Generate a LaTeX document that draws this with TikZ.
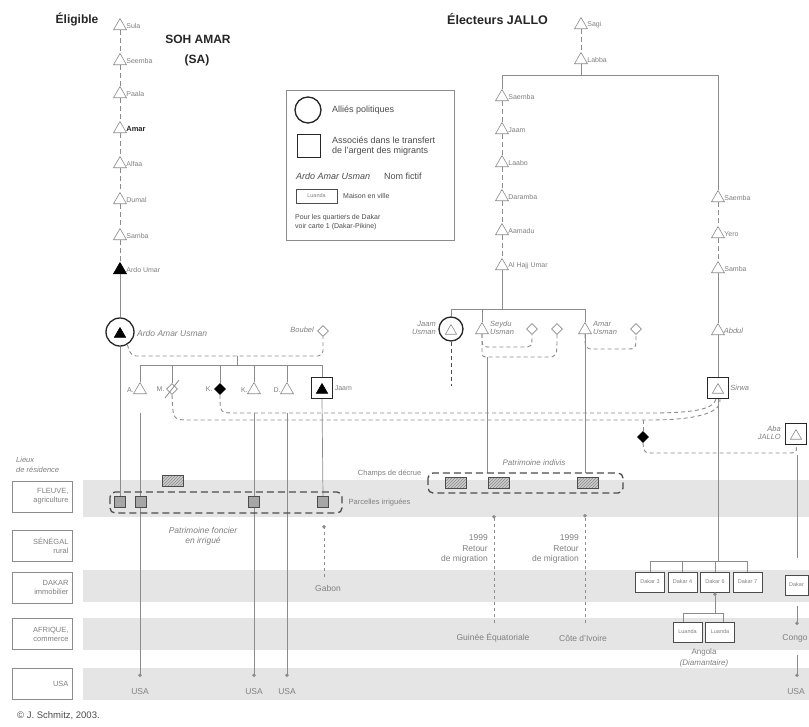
\documentclass[tikz,border=0pt]{standalone}
\usepackage{fontspec}
\setmainfont{Liberation Sans}
\usetikzlibrary{shapes.geometric,arrows.meta,patterns}
\definecolor{band}{gray}{0.9}
\definecolor{ln}{gray}{0.55}
\definecolor{tx}{gray}{0.5}
\definecolor{dk}{gray}{0.3}
\definecolor{hv}{gray}{0.15}
\tikzset{
 tri/.style={regular polygon, regular polygon sides=3, draw=ln, fill=white, inner sep=0pt, minimum size=15pt, line width=0.6pt},
 ftri/.style={tri, fill=black, draw=black},
 dia/.style={diamond, draw=ln, fill=white, inner sep=0pt, minimum size=11pt, line width=0.6pt},
 fdia/.style={dia, fill=black, draw=black},
 lab/.style={font=\fontsize{7}{8}\selectfont, text=tx, inner sep=1.5pt},
 blab/.style={font=\bfseries\fontsize{7.5}{8}\selectfont, text=hv, inner sep=1.5pt},
 ilab/.style={font=\itshape\fontsize{7.5}{8.5}\selectfont, text=tx, inner sep=1pt},
 kin/.style={draw=ln, line width=0.7pt},
 kdash/.style={draw=ln, line width=0.7pt, dash pattern=on 5pt off 3pt},
 mdash/.style={draw=ln, line width=0.9pt, dash pattern=on 4pt off 3pt},
 bigdash/.style={draw=dk, line width=1.3pt, dash pattern=on 7pt off 4pt, rounded corners=5pt},
 sqf/.style={draw=dk, fill=black!35, minimum size=11pt, inner sep=0pt, line width=0.6pt},
 hatch/.style={draw=dk, preaction={fill=black!20}, pattern=north east lines, pattern color=black!45, minimum width=21pt, minimum height=11pt, inner sep=0pt, line width=0.6pt},
 rowbox/.style={draw=ln, fill=white, minimum width=60pt, minimum height=31pt, inner sep=3pt, align=right, font=\fontsize{7.5}{9}\selectfont, text=tx, text width=53pt},
 dbox/.style={draw=dk, line width=0.8pt, fill=white, minimum width=29pt, minimum height=20pt, inner sep=1pt, font=\fontsize{5.5}{6}\selectfont, text=tx},
 place/.style={font=\fontsize{8.5}{10}\selectfont, text=tx, inner sep=1pt},
 title/.style={font=\bfseries\fontsize{12}{14}\selectfont, text=hv, inner sep=0pt},
 asq/.style={draw=hv, line width=1.3pt, fill=white, minimum size=21pt, inner sep=0pt},
 acirc/.style={circle, draw=hv, line width=1.3pt, fill=white, inner sep=0pt},
 leg/.style={font=\fontsize{9}{10.5}\selectfont, text=dk, inner sep=0pt},
 legs/.style={font=\fontsize{7}{9}\selectfont, text=dk, inner sep=0pt},
 dotarrow/.style={-{Circle[length=3.6pt]}},
}
\begin{document}
\begin{tikzpicture}[x=1pt,y=-1pt]
\useasboundingbox (0,0) rectangle (809,726);
\fill[white] (0,0) rectangle (809,726);

% bands
\fill[band] (83,480) rectangle (809,517);
\fill[band] (83,570) rectangle (809,602);
\fill[band] (83,618) rectangle (809,650);
\fill[band] (83,668) rectangle (809,700);

% row labels
\node[ilab, anchor=west, align=left, font=\itshape\fontsize{7.5}{9.5}\selectfont] (lieux) at (15,465) {Lieux\\de résidence};
\node[rowbox] (rF) at (42,496.5) {FLEUVE,\\agriculture};
\node[rowbox] (rS) at (42,545.5) {SÉNÉGAL\\rural};
\node[rowbox] (rD) at (42,587.5) {DAKAR\\immobilier};
\node[rowbox] (rA) at (42,634) {AFRIQUE,\\commerce};
\node[rowbox] (rU) at (42,683.5) {USA};
\node[font=\fontsize{9.5}{11}\selectfont, text=dk, anchor=west, inner sep=0pt] (copy) at (17,716) {© J. Schmitz, 2003.};

% titles
\node[title] (elig) at (77,19) {Éligible};
\node[title] (soh) at (198,39) {SOH AMAR};
\node[title] (sa) at (197,60) {(SA)};
\node[title, anchor=west, font=\bfseries\fontsize{12.5}{14}\selectfont] (elec) at (447,19) {Électeurs JALLO};

% legend
\node[draw=ln, line width=0.6pt, minimum width=168pt, minimum height=150pt, inner sep=0pt] (legbox) at (370,165) {};
\node[acirc, minimum size=26pt] (lc) at (308,110) {};
\node[leg, anchor=west] (lct) at (332,110) {Alliés politiques};
\node[asq, minimum size=23pt] (lsq) at (309,146) {};
\node[leg, anchor=west, align=left] (lsqt) at (332,146) {Associés dans le transfert\\de l'argent des migrants};
\node[ilab, anchor=west, text=dk, font=\itshape\fontsize{9}{10}\selectfont] (lnf) at (295,176) {Ardo Amar Usman};
\node[leg, anchor=west] (lnft) at (384,176) {Nom fictif};
\node[dbox, minimum width=41pt, minimum height=14pt] (llu) at (316.5,196) {Luanda};
\node[legs, anchor=west] (llut) at (343,196) {Maison en ville};
\node[legs, anchor=west, align=left] (lpq) at (295,222) {Pour les quartiers de Dakar\\voir carte 1 (Dakar-Pikine)};

% ===== SOH AMAR lineage
\node[tri, label={[lab]right:Sula}] (s1) at (120,26) {};
\node[tri, label={[lab]right:Seemba}] (s2) at (120,61) {};
\node[tri, label={[lab]right:Paala}] (s3) at (120,94) {};
\node[tri, label={[blab]right:Amar}] (s4) at (120,129) {};
\node[tri, label={[lab]right:Alfaa}] (s5) at (120,164) {};
\node[tri, label={[lab]right:Dumal}] (s6) at (120,200) {};
\node[tri, label={[lab]right:Samba}] (s7) at (120,236) {};
\node[ftri, label={[lab]right:Ardo Umar}] (s8) at (120,270) {};
\foreach \a/\b in {s1/s2,s2/s3,s3/s4,s4/s5,s5/s6,s6/s7,s7/s8} \draw[kdash] (\a) -- (\b);

\node[acirc, minimum size=28pt] (aau) at (120,332) {};
\node[ftri, minimum size=13pt] (aaut) at (120,334) {};
\node[ilab, anchor=west, font=\itshape\fontsize{8.5}{9}\selectfont] (aaul) at (136,333) {Ardo Amar Usman};
\draw[kin] (s8) -- (aau);

\node[dia] (bou) at (323,331) {};
\node[ilab, anchor=east] (boul) at (315,330) {Boubel};
\draw[mdash, rounded corners=5pt] (aau.-60) -- (131,356) -- (323,356) -- (bou.south);

% children
\coordinate (cm0) at (237,356);
\coordinate (cm1) at (237,365);
\draw[kin] (cm0) -- (cm1);
\draw[kin] (140,365) -- (322,365);
\node[tri, label={[lab]left:A.}] (cA) at (140,390) {};
\node[dia, label={[lab]left:M.}] (cM) at (172,389) {};
\draw[ln, line width=0.8pt] (165,398) -- (179,380);
\node[fdia, label={[lab]left:K.}] (cK1) at (220,389) {};
\node[tri, label={[lab]left:K.}] (cK2) at (254,390) {};
\node[tri, label={[lab]left:D.}] (cD) at (287,390) {};
\node[asq, label={[lab]right:Jaam}] (cJ) at (322,388) {};
\node[ftri, minimum size=13pt] (cJt) at (322,390) {};
\foreach \n in {cA,cM,cK1,cK2,cD,cJ} \draw[kin] (\n.north |- cm1) -- (\n.north);

% JALLO lineage
\node[tri, label={[lab]right:Sagi}] (j0) at (581,25) {};
\node[tri, label={[lab]right:Labba}] (j1) at (581,60) {};
\draw[kdash] (j0) -- (j1);
\coordinate (jtop) at (581,75);
\draw[kin] (j1) -- (jtop);
\node[tri, label={[lab]right:Saemba}] (jl1) at (502,97) {};
\node[tri, label={[lab]right:Jaam}] (jl2) at (502,130) {};
\node[tri, label={[lab]right:Laabo}] (jl3) at (502,163) {};
\node[tri, label={[lab]right:Daramba}] (jl4) at (502,197) {};
\node[tri, label={[lab]right:Aamadu}] (jl5) at (502,231) {};
\node[tri, label={[lab]right:Al Hajj Umar}] (jl6) at (502,266) {};
\node[tri, label={[lab]right:Saemba}] (jr1) at (718,198) {};
\node[tri, label={[lab]right:Yero}] (jr2) at (718,234) {};
\node[tri, label={[lab]right:Samba}] (jr3) at (718,269) {};
\node[tri, label={[ilab]right:Abdul}] (jr4) at (718,331) {};
\draw[kin] (jl1.north) -- (502,75) -- (718,75) -- (jr1.north);
\foreach \a/\b in {jl1/jl2,jl2/jl3,jl3/jl4,jl4/jl5,jl5/jl6,jr1/jr2,jr2/jr3} \draw[kdash] (\a) -- (\b);
\draw[kin] (jr3) -- (jr4);

% Al Hajj Umar's children
\coordinate (ju0) at (502,309);
\draw[kin] (jl6) -- (ju0);
\node[acirc, minimum size=24pt] (jU) at (451,329) {};
\node[tri, minimum size=13pt] (jUt) at (451,331) {};
\node[ilab, anchor=east, align=right] (jUl) at (437,328) {Jaam\\Usman};
\node[tri] (sey) at (482,330) {};
\node[ilab, anchor=west, align=left] (seyl) at (489,328) {Seydu\\Usman};
\node[dia] (w1) at (532,329) {};
\node[dia] (w2) at (557,329) {};
\node[tri] (amar) at (585,330) {};
\node[ilab, anchor=west, align=left] (amarl) at (592,328) {Amar\\Usman};
\node[dia] (w3) at (636,329) {};
\draw[kin] (jU.north) -- (451,309) -- (585,309) -- (amar.north);
\draw[kin] (482,309) -- (sey.north);
\draw[mdash, draw=dk] (jU.south) -- (451,386);
\draw[mdash] (sey.south) .. controls (482,347) .. (492,347) -- (522,347) .. controls (532,347) .. (w1.south);
\draw[mdash] (sey.south) -- (482,350) .. controls (482,357) .. (490,357) -- (547,357) .. controls (557,357) .. (w2.south);
\draw[mdash] (amar.south) .. controls (585,349) .. (595,349) -- (626,349) .. controls (636,349) .. (w3.south);

% Sirwa
\node[asq, label={[ilab]right:Sirwa}] (sirwa) at (718,388) {};
\node[tri, minimum size=13pt] (sirwat) at (718,390) {};
\draw[kin] (jr4) -- (sirwa);

% dashed alliance lines to Sirwa
\draw[mdash] (cK1.south) .. controls (220,413) .. (235,413) -- (650,413) .. controls (700,413) and (713,408) .. (sirwa.-100);
\draw[mdash] (cM.south) .. controls (173,420) .. (190,420) -- (650,420) .. controls (705,420) and (722,410) .. (sirwa.-80);
\node[fdia] (fd) at (643,437) {};
\draw[mdash] (643,420) -- (fd.north);
\node[asq] (aba) at (796,434) {};
\node[tri, minimum size=13pt] (abat) at (796,436) {};
\node[ilab, anchor=east, align=right] (abal) at (782,433) {Aba\\JALLO};
\draw[mdash] (fd.south) .. controls (644,453) .. (655,453) -- (786,453) .. controls (797,453) .. (aba.south);

% Patrimoine foncier en irrigué
\coordinate (uA) at (140,413);
\coordinate (uK) at (254,413);
\coordinate (uD) at (287,413);
\coordinate (eA) at (140,677);
\coordinate (eK) at (254,677);
\coordinate (eD) at (287,677);
\draw[kin] (aau.south) -- (120,497);
\draw[kin, dotarrow] (uA) -- (eA);
\draw[kin, dotarrow] (uK) -- (eK);
\draw[kin, dotarrow] (uD) -- (eD);
\draw[kin] (cJ.south) -- (323,497);
\draw[bigdash] (110,492) rectangle (342,513);
\node[sqf] (f1) at (120,502) {};
\node[sqf] (f2) at (141,502) {};
\node[sqf] (f3) at (254,502) {};
\node[sqf] (f4) at (323,502) {};
\node[hatch] (fh) at (173,481) {};
\node[lab, anchor=west, font=\fontsize{7.5}{8}\selectfont] (parc) at (347,503) {Parcelles irriguées};
\node[ilab, align=center, font=\itshape\fontsize{8.5}{10}\selectfont] (pfi) at (203,536) {Patrimoine foncier\\en irrigué};
\node[place] (usa1) at (140,692) {USA};
\node[place] (usa2) at (254,692) {USA};
\node[place] (usa3) at (287,692) {USA};
\coordinate (gab0) at (324,577);
\coordinate (gab1) at (324,525);
\draw[ln, line width=0.6pt, dashed, dotarrow] (gab0) -- (gab1);
\node[place] (gabon) at (328,588) {Gabon};

% Patrimoine indivis
\draw[kin] (487,357) -- (487,473);
\draw[kin] (amar.south) -- (585,473);
\draw[bigdash] (428,473) rectangle (623,493);
\node[hatch] (h1) at (456,483) {};
\node[hatch] (h2) at (499,483) {};
\node[hatch] (h3) at (588,483) {};
\node[ilab, font=\itshape\fontsize{8}{9}\selectfont] (pind) at (534,463) {Patrimoine indivis};
\node[lab, anchor=east, font=\fontsize{7.5}{8}\selectfont] (champ) at (423,474) {Champs de décrue};
\coordinate (r1a) at (494,623);
\coordinate (r1b) at (494,515);
\coordinate (r2a) at (585,623);
\coordinate (r2b) at (585,514);
\draw[ln, line width=0.6pt, dashed, dotarrow] (r1a) -- (r1b);
\draw[ln, line width=0.6pt, dashed, dotarrow] (r2a) -- (r2b);
\node[place, anchor=east, align=right, font=\fontsize{8.5}{10.5}\selectfont] (ret1) at (489,549) {1999\\Retour\\de migration};
\node[place, anchor=east, align=right, font=\fontsize{8.5}{10.5}\selectfont] (ret2) at (580,549) {1999\\Retour\\de migration};
\node[place] (guin) at (493,638) {Guinée Équatoriale};
\node[place] (cote) at (583,638) {Côte d'Ivoire};

% Dakar houses
\coordinate (sb) at (718,561);
\draw[kin] (sirwa.south) -- (sb);
\node[dbox] (d3) at (650,582) {Dakar 3};
\node[dbox] (d4) at (682.5,582) {Dakar 4};
\node[dbox] (d6) at (715,582) {Dakar 6};
\node[dbox] (d7) at (747.5,582) {Dakar 7};
\draw[kin] (d3.north) -- (650,561) -- (747.5,561) -- (d7.north);
\draw[kin] (682.5,561) -- (d4.north);
\draw[kin] (715,561) -- (d6.north);
\node[dbox] (l1) at (687.5,632) {Luanda};
\node[dbox] (l2) at (720,632) {Luanda};
\draw[kin] (683,622) -- (683,613) -- (723,613) -- (723,622);
\coordinate (lb) at (715,613);
\draw[kin, dotarrow] (lb) -- (d6.south);
\node[place, align=center, font=\fontsize{8}{11}\selectfont] (ang) at (704,658) {Angola\\\textit{(Diamantaire)}};

% Aba JALLO branch
\coordinate (ab1) at (797,455);
\coordinate (ab2) at (797,558);
\draw[kin] (ab1) -- (ab2);
\node[dbox, minimum width=23pt] (dk) at (796.5,585) {Dakar};
\coordinate (cg0) at (797,606);
\coordinate (cg1) at (797,625);
\draw[kin, dotarrow] (cg0) -- (cg1);
\node[place] (congo) at (795,638) {Congo};
\coordinate (us0) at (797,655);
\coordinate (us1) at (797,677);
\draw[kin, dotarrow] (us0) -- (us1);
\node[place] (usa4) at (796,692) {USA};
\end{tikzpicture}
\end{document}
